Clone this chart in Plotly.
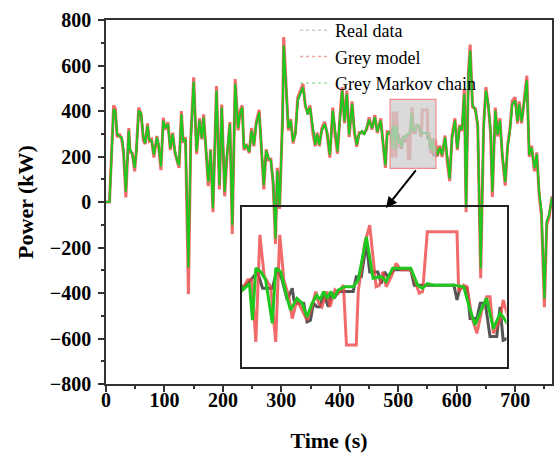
import plotly.graph_objects as go

# ---------------- data ----------------
t_main = [0, 6, 13, 16, 19, 23, 27, 30, 34, 39,
          41, 45, 49, 52, 56, 60, 64, 67, 71, 74,
          78, 82, 87, 90, 94, 98, 101, 106, 110, 114,
          118, 122, 125, 129, 132, 136, 141, 145, 150, 155,
          160, 164, 167, 171, 175, 179, 183, 189, 194, 198,
          203, 207, 212, 216, 221, 226, 229, 233, 236, 240,
          245, 249, 253, 257, 262, 266, 270, 274, 278, 282,
          286, 290, 293, 297, 302, 304, 308, 312, 316, 320,
          324, 328, 332, 337, 341, 345, 349, 354, 358, 361,
          365, 369, 374, 378, 383, 388, 392, 396, 400, 404,
          408, 412, 416, 421, 425, 429, 433, 438, 442, 446,
          450, 455, 460, 464, 470, 474, 478, 481, 485,
          567, 571, 575, 580, 584, 588, 592, 597, 601, 605,
          609, 613, 616, 620, 623, 627, 632, 636, 641, 646,
          650, 654, 658, 661, 666, 670, 674, 678, 683, 687,
          691, 695, 700, 704, 707, 711, 715, 720, 724, 728,
          733, 737, 741, 745, 750, 754, 758, 763]

real_main = [0, 0, 405, 400, 297, 290, 282, 224, 49, 312,
             231, 209, 151, 224, 400, 392, 282, 260, 334, 275,
             268, 209, 282, 253, 158, 356, 326, 341, 238, 297,
             224, 180, 165, 385, 268, 275, -290, 268, 525, 224,
             356, 282, 370, 238, 92, 224, -25, 488, 77, 414,
             48, 209, 341, -98, 517, 326, 385, 414, 238, 246,
             224, 312, 253, 341, 392, 238, 77, 224, 194, 180,
             92, -157, 136, -11, 356, 690, 503, 326, 356, 268,
             297, 444, 473, 503, 429, 385, 414, 312, 253, 297,
             253, 312, 341, 312, 209, 400, 297, 224, 356, 488,
             356, 473, 297, 429, 312, 253, 297, 312, 297, 326,
             360, 326, 370, 312, 356, 253, 165, 297, 312,
             209, 238, 209, 282, 180, 106, 282, 356, 238, 330,
             320, 473, -22, 547, 664, 429, 400, 341, -290, 326,
             488, 429, 312, 48, 400, 297, 356, 209, 92, 238,
             312, 429, 444, 356, 429, 356, 429, 532, 209, 238,
             151, 209, 48, -40, -421, -84, -55, 18]

grey_main = [0, 0, 425, 410, 285, 300, 275, 215, 20, 325,
             220, 215, 135, 230, 415, 385, 270, 255, 345, 268,
             275, 195, 290, 245, 140, 370, 318, 350, 228, 305,
             215, 170, 150, 400, 260, 285, -405, 280, 548, 210,
             368, 275, 385, 228, 70, 232, -45, 510, 55, 428,
             25, 200, 352, -140, 540, 315, 398, 425, 228, 255,
             215, 325, 245, 352, 405, 228, 55, 232, 185, 188,
             75, -185, 150, -30, 370, 725, 515, 315, 365, 258,
             305, 460, 485, 520, 420, 395, 425, 300, 245, 305,
             245, 322, 352, 302, 195, 415, 288, 212, 368, 505,
             345, 490, 285, 442, 302, 243, 305, 303, 306, 318,
             372, 318, 382, 303, 368, 242, 150, 308, 303,
             200, 248, 198, 292, 170, 92, 292, 368, 228, 340,
             312, 495, -45, 570, 692, 418, 410, 330, -335, 338,
             505, 420, 300, 22, 415, 288, 368, 198, 72, 248,
             322, 445, 460, 345, 442, 346, 442, 555, 198, 248,
             135, 218, 28, -60, -462, -100, -68, 25]

markov_main = [0, 0, 408, 398, 300, 288, 284, 226, 45, 314,
               233, 208, 150, 226, 402, 390, 284, 258, 336, 274,
               270, 207, 284, 251, 155, 358, 324, 343, 236, 299,
               222, 178, 162, 387, 266, 277, -288, 270, 528, 222,
               358, 280, 372, 236, 88, 226, -28, 490, 74, 416,
               45, 207, 343, -102, 520, 324, 387, 416, 236, 248,
               222, 314, 251, 343, 394, 236, 74, 226, 192, 182,
               88, -160, 138, -14, 358, 688, 505, 324, 358, 266,
               299, 446, 475, 505, 427, 387, 416, 310, 251, 299,
               251, 314, 343, 310, 207, 402, 295, 222, 358, 490,
               354, 475, 295, 431, 310, 251, 299, 310, 299, 324,
               362, 324, 372, 310, 358, 251, 162, 299, 310,
               207, 240, 207, 284, 178, 103, 284, 358, 236, 332,
               318, 475, -25, 550, 666, 427, 402, 339, -292, 328,
               490, 427, 310, 45, 402, 295, 358, 207, 88, 240,
               314, 431, 446, 354, 431, 354, 431, 535, 207, 240,
               149, 211, 45, -43, -425, -86, -57, 20]

# finer readings inside the zoomed window (486 s - 564 s)
t_real_z = [486.2, 488.2, 490.6, 492.1, 495.0, 496.5, 497.9, 499.4, 500.9, 501.4,
            502.3, 504.3, 505.3, 506.3, 507.2, 508.2, 509.2, 510.2, 511.6, 512.6,
            513.6, 514.6, 519.0, 519.9, 521.4, 522.9, 523.9, 526.3, 527.3, 528.3,
            529.3, 531.2, 536.1, 537.1, 548.9, 549.8, 550.8, 552.8, 553.7, 555.7,
            556.7, 558.2, 559.6, 561.6, 562.6, 563.5]
real_z = [297, 310, 328, 297, 297, 335, 313, 275, 297, 275,
          269, 269, 234, 237, 269, 262, 262, 288, 262, 288,
          281, 291, 291, 319, 319, 382, 328, 328, 306, 328,
          319, 332, 332, 303, 303, 275, 300, 297, 240, 240,
          269, 269, 206, 206, 262, 199]

t_grey_z = [486.2, 487.7, 488.9, 490.1, 491.3, 492.6, 494.5, 496.0, 497.2, 498.4,
            499.9, 500.9, 502.3, 503.8, 505.3, 506.6, 507.9, 508.7, 509.7, 511.2,
            512.1, 513.6, 514.6, 516.1, 517.0, 519.9, 520.5, 522.4, 523.9, 525.8,
            526.8, 527.8, 528.8, 530.3, 531.7, 533.2, 536.1, 538.6, 539.6, 541.0,
            549.8, 550.3, 551.8, 552.8, 554.2, 555.7, 557.2, 558.6, 559.6, 560.6,
            562.6, 563.5]
grey_z = [297, 313, 313, 196, 398, 319, 300, 196, 398, 313,
          281, 240, 275, 256, 237, 259, 291, 269, 262, 291,
          262, 294, 288, 303, 190, 190, 291, 382, 416, 300,
          303, 328, 300, 319, 344, 332, 332, 288, 291, 404,
          404, 291, 303, 300, 243, 212, 256, 281, 281, 212,
          237, 275]

t_markov_z = [486.2, 488.2, 489.1, 490.1, 491.6, 493.0, 495.0, 496.0, 497.5, 499.4,
              500.4, 502.3, 503.8, 505.3, 506.8, 508.2, 509.2, 510.2, 511.2, 512.4,
              513.1, 514.6, 516.5, 519.0, 520.5, 522.9, 524.9, 527.3, 528.8, 530.7,
              536.1, 538.1, 539.6, 541.0, 543.0, 548.9, 551.8, 553.7, 555.2, 557.2,
              558.6, 560.6, 562.6, 563.5]
markov_z = [294, 306, 237, 335, 328, 313, 231, 335, 328, 278,
            256, 278, 269, 243, 269, 284, 275, 291, 278, 291,
            278, 294, 300, 300, 313, 394, 316, 319, 310, 335,
            335, 303, 297, 306, 303, 303, 300, 256, 228, 259,
            278, 221, 250, 243]

x_ticks = [0, 100, 200, 300, 400, 500, 600, 700]
y_ticks = [-800, -600, -400, -200, 0, 200, 400, 600, 800]
zoom_x = [486, 564.5]
zoom_y = [148, 451]

series_names = ["Real data", "Grey model", "Grey Markov chain"]


def merge(tz, vz, vmain):
    t = [a for a in t_main if a < zoom_x[0]] + tz + [a for a in t_main if a > zoom_x[1]]
    v = ([b for a, b in zip(t_main, vmain) if a < zoom_x[0]] + vz +
         [b for a, b in zip(t_main, vmain) if a > zoom_x[1]])
    return t, v


t_real, v_real = merge(t_real_z, real_z, real_main)
t_grey, v_grey = merge(t_grey_z, grey_z, grey_main)
t_mark, v_mark = merge(t_markov_z, markov_z, markov_main)

FONT = "Liberation Serif"
C_REAL = "#555555"
C_GREY = "rgba(238,70,70,0.8)"
C_MARK = "#1fc81f"

fig = go.Figure()

# main panel
fig.add_trace(go.Scatter(x=t_real, y=v_real, mode="lines", showlegend=False,
                         line=dict(color=C_REAL, width=2)))
fig.add_trace(go.Scatter(x=t_grey, y=v_grey, mode="lines", showlegend=False,
                         line=dict(color=C_GREY, width=3)))
fig.add_trace(go.Scatter(x=t_mark, y=v_mark, mode="lines", showlegend=False,
                         line=dict(color=C_MARK, width=2)))

# inset panel
fig.add_trace(go.Scatter(x=t_real, y=v_real, mode="lines", showlegend=False,
                         xaxis="x2", yaxis="y2", line=dict(color=C_REAL, width=3)))
fig.add_trace(go.Scatter(x=t_grey, y=v_grey, mode="lines", showlegend=False,
                         xaxis="x2", yaxis="y2", line=dict(color=C_GREY, width=3)))
fig.add_trace(go.Scatter(x=t_mark, y=v_mark, mode="lines", showlegend=False,
                         xaxis="x2", yaxis="y2", line=dict(color=C_MARK, width=3)))

# legend entries (faint dotted samples as in the reference)
for name, col in zip(series_names, ["#c8c8c8", "#f4a0a0", "#9fe09f"]):
    fig.add_trace(go.Scatter(x=[None], y=[None], mode="lines", name=name,
                             line=dict(color=col, width=1.5, dash="dot")))

axis_common = dict(showgrid=False, zeroline=False, showline=True, mirror=True,
                   linecolor="#333333", linewidth=1.6, ticks="outside", ticklen=6,
                   tickwidth=1.5, tickcolor="#333333",
                   tickfont=dict(family=FONT, size=20, color="black", weight="bold"))

fig.update_layout(
    width=556, height=453,
    margin=dict(l=106, r=2, t=20, b=69),
    paper_bgcolor="white", plot_bgcolor="rgba(0,0,0,0)",
    xaxis=dict(range=[0, 763], tickvals=x_ticks, ticklabelstandoff=-9,
               minor=dict(ticks="outside", ticklen=3, dtick=50, tick0=0, tickcolor="#333333"),
               title=dict(text="Time (s)", font=dict(family=FONT, size=22, color="black", weight="bold"),
                          standoff=23),
               **axis_common),
    yaxis=dict(range=[-800, 800], tickvals=y_ticks, ticklabelstandoff=3,
               minor=dict(ticks="outside", ticklen=3, dtick=100, tick0=0, tickcolor="#333333"),
               title=dict(text="Power (kW)", font=dict(family=FONT, size=22, color="black", weight="bold"),
                          standoff=10),
               **axis_common),
    xaxis2=dict(domain=[0.305, 0.898], anchor="y2", range=zoom_x, showgrid=False, zeroline=False,
                showline=True, mirror=True, linecolor="#222222", linewidth=2,
                showticklabels=False, ticks=""),
    yaxis2=dict(domain=[0.046, 0.487], anchor="x2", range=zoom_y, showgrid=False, zeroline=False,
                showline=True, mirror=True, linecolor="#222222", linewidth=2,
                showticklabels=False, ticks=""),
    legend=dict(x=0.424, y=1.022, xanchor="left", yanchor="top", bgcolor="rgba(0,0,0,0)",
                font=dict(family=FONT, size=18, color="black"), tracegroupgap=0),
    shapes=[dict(type="rect", xref="x", yref="y", x0=zoom_x[0], x1=zoom_x[1],
                 y0=zoom_y[0], y1=zoom_y[1], fillcolor="rgba(205,205,205,0.75)",
                 line=dict(color="#f08c8c", width=1.2), layer="above")],
    annotations=[dict(x=479, y=-26, xref="x", yref="y", ax=31, ay=-39, text="",
                      showarrow=True, arrowhead=2, arrowsize=1.1, arrowwidth=2,
                      arrowcolor="black")],
)

fig.write_html("out.html")
